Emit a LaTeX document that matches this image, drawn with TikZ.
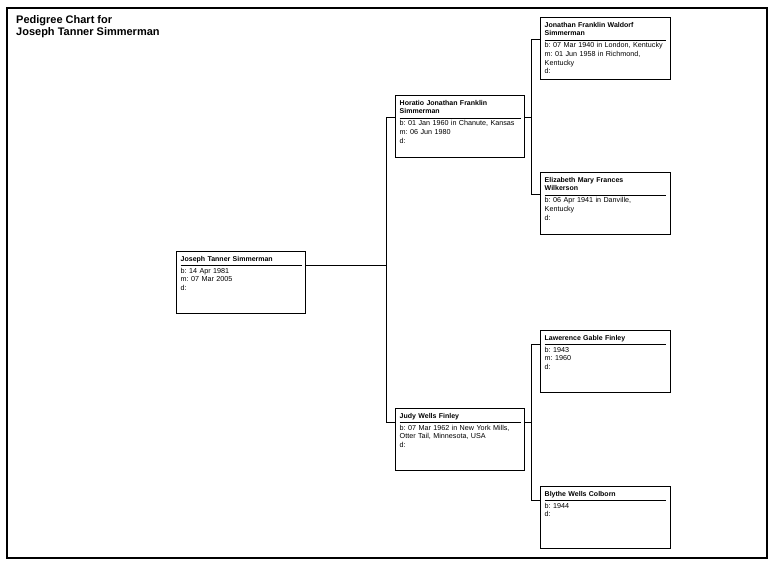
\documentclass[tikz,border=0pt]{standalone}
\usepackage{fontspec}
\setmainfont{Liberation Sans}
\usepackage{tikz}
\usetikzlibrary{calc,shapes,positioning}
\usetikzlibrary{arrows}
\frenchspacing

\begin{document}
\begin{tikzpicture}[x=1pt,y=-1pt]
  \tikzstyle{frame} = [draw=black, line width=2pt]
  \tikzstyle{ptitle} = [anchor=north west, inner sep=0pt, align=left, font=\bfseries\fontsize{11}{12}\selectfont]
  \tikzstyle{pbox} = [draw=black, line width=0.9pt, rectangle, anchor=north west, minimum width=130pt, minimum height=62pt, inner sep=0pt]
  \tikzstyle{pname} = [anchor=north west, inner xsep=0pt, inner ysep=1.5pt, text width=121pt, align=left, font=\bfseries\fontsize{7}{8.5}\selectfont, execute at begin node=\strut, execute at end node=\strut]
  \tikzstyle{pinfo} = [anchor=north west, inner sep=0pt, text width=122pt, align=left, font=\fontsize{7.2}{8.7}\selectfont, execute at begin node=\strut]
  \tikzstyle{rule} = [draw=black, line width=0.8pt]
  \tikzstyle{link} = [draw=black, line width=0.9pt]

  \useasboundingbox (0,0) rectangle (775,565);
  \draw[frame] (6.5,7.5) rectangle (767,557.5);

  \node[ptitle] (ttl) at (16,15) {Pedigree Chart for\\Joseph Tanner Simmerman};

  % generation 1
  \node[pbox, minimum width=129pt] (p1) at (176,251) {};
  \node[pname] (p1n) at ($(p1.north west)+(4.5,2.5)$) {Joseph Tanner Simmerman};
  \node[pinfo] (p1i) at ($(p1n.south west)+(0,1.5)$) {b: 14 Apr 1981\\m: 07 Mar 2005\\d:};

  % generation 2
  \node[pbox, minimum width=129pt] (p2) at (395,95) {};
  \node[pname] (p2n) at ($(p2.north west)+(4.5,2.5)$) {Horatio Jonathan Franklin\\Simmerman};
  \node[pinfo] (p2i) at ($(p2n.south west)+(0,1.5)$) {b: 01 Jan 1960 in Chanute, Kansas\\m: 06 Jun 1980\\d:};

  \node[pbox, minimum width=129pt] (p3) at (395,408) {};
  \node[pname] (p3n) at ($(p3.north west)+(4.5,2.5)$) {Judy Wells Finley};
  \node[pinfo] (p3i) at ($(p3n.south west)+(0,1.5)$) {b: 07 Mar 1962 in New York Mills,\\Otter Tail, Minnesota, USA\\d:};

  % generation 3
  \node[pbox] (p4) at (540,17) {};
  \node[pname] (p4n) at ($(p4.north west)+(4.5,2.5)$) {Jonathan Franklin Waldorf\\Simmerman};
  \node[pinfo] (p4i) at ($(p4n.south west)+(0,1.5)$) {b: 07 Mar 1940 in London, Kentucky\\m: 01 Jun 1958 in Richmond,\\Kentucky\\d:};

  \node[pbox] (p5) at (540,172) {};
  \node[pname] (p5n) at ($(p5.north west)+(4.5,2.5)$) {Elizabeth Mary Frances\\Wilkerson};
  \node[pinfo] (p5i) at ($(p5n.south west)+(0,1.5)$) {b: 06 Apr 1941 in Danville,\\Kentucky\\d:};

  \node[pbox] (p6) at (540,330) {};
  \node[pname] (p6n) at ($(p6.north west)+(4.5,2.5)$) {Lawerence Gable Finley};
  \node[pinfo] (p6i) at ($(p6n.south west)+(0,1.5)$) {b: 1943\\m: 1960\\d:};

  \node[pbox] (p7) at (540,486) {};
  \node[pname] (p7n) at ($(p7.north west)+(4.5,2.5)$) {Blythe Wells Colborn};
  \node[pinfo] (p7i) at ($(p7n.south west)+(0,1.5)$) {b: 1944\\d:};

  % name rules
  \foreach \p in {p1n,p2n,p3n,p4n,p5n,p6n,p7n}
    \draw[rule] (\p.south west) -- (\p.south east);

  % junctions
  \coordinate (j1) at ($(p1.east |- p1n.south)+(81,0)$);
  \coordinate (j2) at ($(p2.east |- p2n.south)+(7,0)$);
  \coordinate (j3) at ($(p3.east |- p3n.south)+(7,0)$);

  \draw[link] (p1.east |- p1n.south) -- (j1);
  \draw[link] (p2.west |- p2n.south) -| (j1) |- (p3.west |- p3n.south);
  \draw[link] (p2.east |- p2n.south) -- (j2);
  \draw[link] (p4.west |- p4n.south) -| (j2) |- (p5.west |- p5n.south);
  \draw[link] (p3.east |- p3n.south) -- (j3);
  \draw[link] (p6.west |- p6n.south) -| (j3) |- (p7.west |- p7n.south);
\end{tikzpicture}
\end{document}
